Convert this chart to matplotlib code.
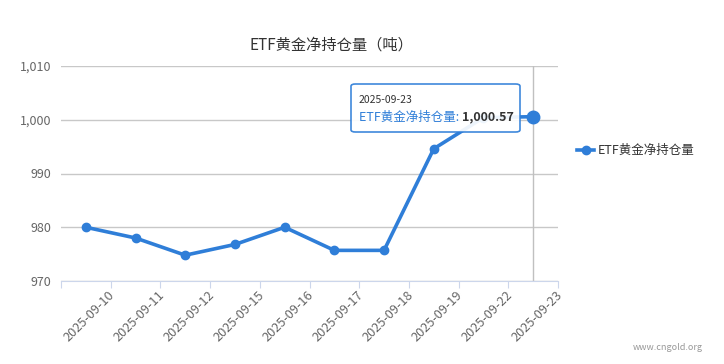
import numpy as np
import matplotlib.pyplot as plt
from matplotlib.patches import FancyBboxPatch
from matplotlib.ticker import FuncFormatter

plt.rcParams['font.family'] = ['Noto Sans CJK SC', 'DejaVu Sans']

dates = ['2025-09-10', '2025-09-11', '2025-09-12', '2025-09-15', '2025-09-16',
         '2025-09-17', '2025-09-18', '2025-09-19', '2025-09-22', '2025-09-23']
holdings = [980.0, 978.0, 974.8, 976.8, 980.0, 975.7, 975.7, 994.6, 1000.4, 1000.57]
series_name = 'ETF黄金净持仓量'

line_color = '#2f7ed8'
grid_color = '#c8c8c8'
axis_color = '#ccd6eb'
label_color = '#666666'

fig = plt.figure(figsize=(7.24, 3.64), dpi=100)
ax = fig.add_axes([61 / 724, 1 - 281 / 364, 497 / 724, 215 / 364])

x = np.arange(len(dates))
ax.plot(x, holdings, color=line_color, lw=2.6, marker='o', ms=6, zorder=3,
        solid_capstyle='round')
# hovered point
ax.plot(x[-1], holdings[-1], 'o', color=line_color, ms=9, zorder=4)
ax.axvline(x[-1], color='#c0c0c0', lw=1, zorder=1)

ax.set_xlim(-0.5, len(dates) - 0.5)
ax.set_ylim(970, 1010)
ax.set_yticks([970, 980, 990, 1000, 1010])
ax.yaxis.set_major_formatter(FuncFormatter(lambda v, p: f'{v:,.0f}'))
ax.grid(axis='y', color=grid_color, lw=1)
ax.set_axisbelow(True)
for s in ['top', 'right', 'left']:
    ax.spines[s].set_visible(False)
ax.spines['bottom'].set_color(axis_color)
ax.tick_params(axis='y', length=0, labelsize=9, labelcolor=label_color, pad=7)

# tick marks at category boundaries, labels ending at right boundary
ax.set_xticks(np.arange(-0.5, len(dates)), minor=False)
ax.set_xticklabels([])
ax.tick_params(axis='x', length=5, color=axis_color)
for i, d in enumerate(dates):
    ax.text(i + 0.45, 968.6, d, rotation=45, ha='right', va='top',
            rotation_mode='anchor', fontsize=9.2, color=label_color)

fig.text(331 / 724, 1 - 45 / 364, series_name + '（吨）', ha='center', va='center',
         fontsize=11, color='#333333')

# tooltip
tip = FancyBboxPatch((351 / 724, 1 - 132 / 364), 169 / 724, 48 / 364,
                     boxstyle='round,pad=0,rounding_size=0.006',
                     transform=fig.transFigure, facecolor='white',
                     edgecolor=line_color, lw=1.2, alpha=0.92, zorder=5)
fig.patches.append(tip)
fig.text(359 / 724, 1 - 100 / 364, '2025-09-23', fontsize=7.5, color='#333333',
         va='center', zorder=6)
t1 = fig.text(359 / 724, 1 - 117 / 364, series_name + ': ', fontsize=9,
              color=line_color, va='center', zorder=6)
fig.canvas.draw()
bb = t1.get_window_extent()
fig.text(bb.x1 / 724, 1 - 117 / 364, '1,000.57', fontsize=9, color='#333333',
         fontweight='bold', va='center', zorder=6)

# legend
fig.add_artist(plt.Line2D([577 / 724, 594 / 724], [1 - 150 / 364] * 2,
                          color=line_color, lw=2.6, transform=fig.transFigure))
fig.add_artist(plt.Line2D([585.5 / 724], [1 - 150 / 364], color=line_color,
                          marker='o', ms=6, transform=fig.transFigure))
fig.text(598 / 724, 1 - 150 / 364, series_name, fontsize=9, color='#333333',
         va='center')

fig.text(703 / 724, 1 - 348 / 364, 'www.cngold.org', fontsize=6.5,
         color='#999999', ha='right', va='center')

fig.savefig('out.png', dpi=100)
